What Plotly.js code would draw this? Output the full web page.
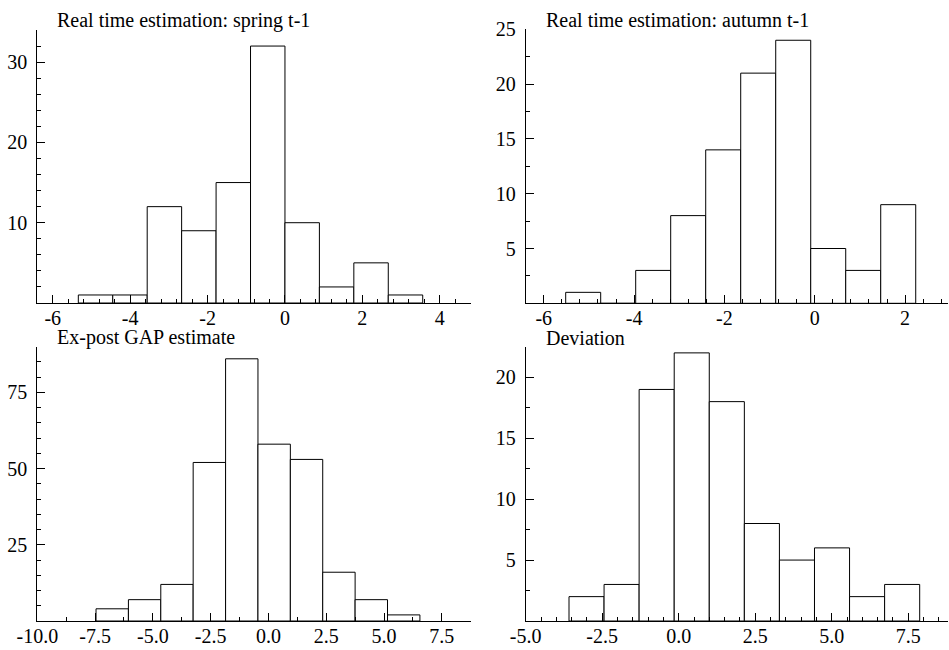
<!DOCTYPE html>
<html>
<head>
<meta charset="utf-8">
<script src="https://cdn.plot.ly/plotly-3.0.1.min.js"></script>
<style>html,body{margin:0;padding:0;background:#fff;}#chart{width:949px;height:650px;}</style>
</head>
<body>
<div id="chart"></div>
<script>
// ---- data ----
const springCenters = [-4.895, -4.005, -3.115, -2.225, -1.335, -0.445, 0.445, 1.335, 2.225, 3.115];
const springCounts  = [1, 1, 12, 9, 15, 32, 10, 2, 5, 1];
const springWidth = 0.89;

const autumnCenters = [-5.127, -4.352, -3.577, -2.802, -2.027, -1.252, -0.477, 0.298, 1.073, 1.848];
const autumnCounts  = [1, 0, 3, 8, 14, 21, 24, 5, 3, 9];
const autumnWidth = 0.775;

const expostCenters = [-6.759, -5.358, -3.957, -2.556, -1.154, 0.247, 1.648, 3.049, 4.450, 5.852];
const expostCounts  = [4, 7, 12, 52, 86, 58, 53, 16, 7, 2];
const expostWidth = 1.401;

const deviationCenters = [-3.012, -1.866, -0.720, 0.426, 1.572, 2.718, 3.864, 5.010, 6.156, 7.302];
const deviationCounts  = [2, 3, 19, 22, 18, 8, 5, 6, 2, 3];
const deviationWidth = 1.146;

const panelTitles = ["Real time estimation: spring t-1", "Real time estimation: autumn t-1", "Ex-post GAP estimate", "Deviation"];

const x1TickVals = [-6, -4, -2, 0, 2, 4];
const x1TickText = ["-6", "-4", "-2", "0", "2", "4"];
const y1TickVals = [10, 20, 30];
const y1TickText = ["10", "20", "30"];

const x2TickVals = [-6, -4, -2, 0, 2];
const x2TickText = ["-6", "-4", "-2", "0", "2"];
const y2TickVals = [5, 10, 15, 20, 25];
const y2TickText = ["5", "10", "15", "20", "25"];

const x3TickVals = [-10, -7.5, -5, -2.5, 0, 2.5, 5, 7.5];
const x3TickText = ["-10.0", "-7.5", "-5.0", "-2.5", "0.0", "2.5", "5.0", "7.5"];
const y3TickVals = [25, 50, 75];
const y3TickText = ["25", "50", "75"];

const x4TickVals = [-5, -2.5, 0, 2.5, 5, 7.5];
const x4TickText = ["-5.0", "-2.5", "0.0", "2.5", "5.0", "7.5"];
const y4TickVals = [5, 10, 15, 20];
const y4TickText = ["5", "10", "15", "20"];

// ---- drawing ----
const W = 949, H = 650;
const fontFam = "'Liberation Serif', 'Times New Roman', serif";

function barTrace(xs, ys, w, xa, ya) {
  return {
    type: 'bar', x: xs, y: ys, width: w,
    xaxis: xa, yaxis: ya,
    marker: {color: 'rgba(255,255,255,1)', line: {color: '#000', width: 1}},
    hoverinfo: 'x+y', showlegend: false
  };
}

const traces = [
  barTrace(springCenters, springCounts, springWidth, 'x', 'y'),
  barTrace(autumnCenters, autumnCounts, autumnWidth, 'x2', 'y2'),
  barTrace(expostCenters, expostCounts, expostWidth, 'x3', 'y3'),
  barTrace(deviationCenters, deviationCounts, deviationWidth, 'x4', 'y4')
];

function xAxis(px0, px1, range, tv, tt, minorD, anchor) {
  return {
    domain: [px0 / W, px1 / W], range: range, anchor: anchor,
    showline: true, linecolor: '#000', linewidth: 1, mirror: false,
    showgrid: false, zeroline: false,
    ticks: 'inside', ticklen: 8, tickwidth: 1, tickcolor: '#000',
    tickmode: 'array', tickvals: tv, ticktext: tt,
    minor: {ticks: 'inside', ticklen: 4, tickwidth: 1, tickcolor: '#000', tickmode: 'linear', tick0: 0, dtick: minorD, showgrid: false},
    tickfont: {family: fontFam, size: 20, color: '#000'},
    ticklabelstandoff: -3,
    fixedrange: true
  };
}
function yAxis(py0, py1, range, tv, tt, minorD, anchor) {
  return {
    domain: [1 - py1 / H, 1 - py0 / H], range: range, anchor: anchor,
    showline: true, linecolor: '#000', linewidth: 1, mirror: false,
    showgrid: false, zeroline: false,
    ticks: 'inside', ticklen: 8, tickwidth: 1, tickcolor: '#000',
    tickmode: 'array', tickvals: tv, ticktext: tt,
    minor: {ticks: 'inside', ticklen: 4, tickwidth: 1, tickcolor: '#000', tickmode: 'linear', tick0: 0, dtick: minorD, showgrid: false},
    tickfont: {family: fontFam, size: 20, color: '#000'},
    ticklabelstandoff: 5,
    fixedrange: true
  };
}

function titleAnn(text, xa, ya) {
  return {
    text: text, xref: xa + ' domain', yref: ya + ' domain', x: 0, y: 1,
    xanchor: 'left', yanchor: 'bottom', xshift: 18, yshift: -4, showarrow: false,
    font: {family: fontFam, size: 20, color: '#000'}
  };
}

const layout = {
  width: W, height: H,
  margin: {l: 0, r: 0, t: 0, b: 0},
  paper_bgcolor: '#fff', plot_bgcolor: '#fff',
  bargap: 0, showlegend: false,
  xaxis:  xAxis(37.3, 470.7, [-6.4, 4.8], x1TickVals, x1TickText, 0.4, 'y'),
  yaxis:  yAxis(30, 303, [0, 34], y1TickVals, y1TickText, 2, 'x'),
  xaxis2: xAxis(525.7, 948, [-6.4, 2.95], x2TickVals, x2TickText, 0.4, 'y2'),
  yaxis2: yAxis(29.3, 303.3, [0, 25], y2TickVals, y2TickText, 2.5, 'x2'),
  xaxis3: xAxis(37.3, 470.7, [-10, 8.75], x3TickVals, x3TickText, 1.25, 'y3'),
  yaxis3: yAxis(346.6, 621, [0, 90], y3TickVals, y3TickText, 5, 'x3'),
  xaxis4: xAxis(525.7, 948, [-5, 8.8], x4TickVals, x4TickText, 0.5, 'y4'),
  yaxis4: yAxis(346.8, 621, [0, 22.5], y4TickVals, y4TickText, 2.5, 'x4'),
  annotations: [
    titleAnn(panelTitles[0], 'x', 'y'),
    titleAnn(panelTitles[1], 'x2', 'y2'),
    titleAnn(panelTitles[2], 'x3', 'y3'),
    titleAnn(panelTitles[3], 'x4', 'y4')
  ]
};

Plotly.newPlot('chart', traces, layout, {staticPlot: true, displayModeBar: false});
</script>
</body>
</html>
